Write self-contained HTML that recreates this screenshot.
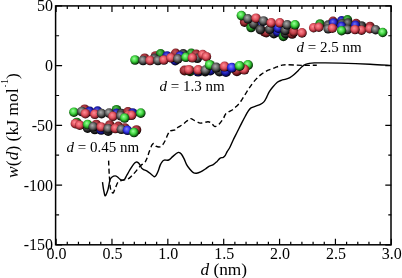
<!DOCTYPE html>
<html><head><meta charset="utf-8"><style>
html,body{margin:0;padding:0;background:#fff;width:402px;height:278px;overflow:hidden}
svg{display:block;will-change:transform}
text{font-family:"Liberation Serif",serif;fill:#000}
</style></head><body>
<svg width="402" height="278" viewBox="0 0 402 278">
<defs>
<radialGradient id="rf" cx="0.45" cy="0.42" r="0.58" fx="0.4" fy="0.35">
<stop offset="0" stop-color="#ff9098"/><stop offset="0.5" stop-color="#e25460"/><stop offset="0.86" stop-color="#7a1a22"/><stop offset="1" stop-color="#000"/></radialGradient>
<radialGradient id="rm" cx="0.45" cy="0.42" r="0.58" fx="0.4" fy="0.35">
<stop offset="0" stop-color="#dc6c74"/><stop offset="0.5" stop-color="#c04048"/><stop offset="0.86" stop-color="#581214"/><stop offset="1" stop-color="#000"/></radialGradient>
<radialGradient id="rb" cx="0.45" cy="0.42" r="0.58" fx="0.4" fy="0.35">
<stop offset="0" stop-color="#c05860"/><stop offset="0.5" stop-color="#a43038"/><stop offset="0.86" stop-color="#460a0c"/><stop offset="1" stop-color="#000"/></radialGradient>
<radialGradient id="gf" cx="0.45" cy="0.42" r="0.58" fx="0.4" fy="0.35">
<stop offset="0" stop-color="#a0ffa0"/><stop offset="0.5" stop-color="#40d640"/><stop offset="0.86" stop-color="#0e5a0e"/><stop offset="1" stop-color="#000"/></radialGradient>
<radialGradient id="gm" cx="0.45" cy="0.42" r="0.58" fx="0.4" fy="0.35">
<stop offset="0" stop-color="#80dc80"/><stop offset="0.5" stop-color="#30b030"/><stop offset="0.86" stop-color="#0a460a"/><stop offset="1" stop-color="#000"/></radialGradient>
<radialGradient id="gb" cx="0.45" cy="0.42" r="0.58" fx="0.4" fy="0.35">
<stop offset="0" stop-color="#68c068"/><stop offset="0.5" stop-color="#229a22"/><stop offset="0.86" stop-color="#083608"/><stop offset="1" stop-color="#000"/></radialGradient>
<radialGradient id="kf" cx="0.45" cy="0.42" r="0.58" fx="0.4" fy="0.35">
<stop offset="0" stop-color="#b0b0b0"/><stop offset="0.5" stop-color="#666666"/><stop offset="0.86" stop-color="#1c1c1c"/><stop offset="1" stop-color="#000"/></radialGradient>
<radialGradient id="km" cx="0.45" cy="0.42" r="0.58" fx="0.4" fy="0.35">
<stop offset="0" stop-color="#909090"/><stop offset="0.5" stop-color="#4c4c4c"/><stop offset="0.86" stop-color="#141414"/><stop offset="1" stop-color="#000"/></radialGradient>
<radialGradient id="kb" cx="0.45" cy="0.42" r="0.58" fx="0.4" fy="0.35">
<stop offset="0" stop-color="#787878"/><stop offset="0.5" stop-color="#404040"/><stop offset="0.86" stop-color="#0e0e0e"/><stop offset="1" stop-color="#000"/></radialGradient>
<radialGradient id="bf" cx="0.45" cy="0.42" r="0.58" fx="0.4" fy="0.35">
<stop offset="0" stop-color="#8888ff"/><stop offset="0.5" stop-color="#3636ee"/><stop offset="0.86" stop-color="#0c0c6a"/><stop offset="1" stop-color="#000"/></radialGradient>
<radialGradient id="bm" cx="0.45" cy="0.42" r="0.58" fx="0.4" fy="0.35">
<stop offset="0" stop-color="#7070f0"/><stop offset="0.5" stop-color="#2a2ad4"/><stop offset="0.86" stop-color="#0a0a58"/><stop offset="1" stop-color="#000"/></radialGradient>
<radialGradient id="bb" cx="0.45" cy="0.42" r="0.58" fx="0.4" fy="0.35">
<stop offset="0" stop-color="#5c5cdc"/><stop offset="0.5" stop-color="#2020bc"/><stop offset="0.86" stop-color="#080848"/><stop offset="1" stop-color="#000"/></radialGradient>




</defs>
<rect width="402" height="278" fill="#fff"/>
<g>
<circle cx="244.6" cy="22.1" r="4.8" fill="url(#rb)"/>
<circle cx="251.1" cy="27.5" r="4.8" fill="url(#gb)"/>
<circle cx="259.7" cy="25.9" r="4.8" fill="url(#bb)"/>
<circle cx="264.6" cy="31.8" r="4.8" fill="url(#rb)"/>
<circle cx="266.3" cy="32.6" r="4.8" fill="url(#rb)"/>
<circle cx="273.9" cy="33.7" r="4.8" fill="url(#kb)"/>
<circle cx="277.6" cy="32.0" r="4.8" fill="url(#bb)"/>
<circle cx="283.4" cy="36.4" r="4.8" fill="url(#gb)"/>
<circle cx="285.7" cy="33.7" r="4.8" fill="url(#kb)"/>
<circle cx="292.2" cy="34.0" r="4.8" fill="url(#rb)"/>
<circle cx="253.8" cy="24.2" r="4.8" fill="url(#km)"/>
<circle cx="260.3" cy="29.6" r="4.8" fill="url(#km)"/>
<circle cx="269.6" cy="29.3" r="4.8" fill="url(#km)"/>
<circle cx="278.2" cy="28.2" r="4.8" fill="url(#bm)"/>
<circle cx="285.2" cy="30.4" r="4.8" fill="url(#km)"/>
<circle cx="293.9" cy="31.8" r="4.8" fill="url(#rm)"/>
<circle cx="241.4" cy="15.6" r="4.8" fill="url(#gf)"/>
<circle cx="247.9" cy="18.8" r="4.8" fill="url(#kf)"/>
<circle cx="256.0" cy="18.2" r="4.8" fill="url(#rf)"/>
<circle cx="263.5" cy="21.0" r="4.8" fill="url(#kf)"/>
<circle cx="271.2" cy="22.8" r="4.8" fill="url(#rf)"/>
<circle cx="279.8" cy="22.8" r="4.8" fill="url(#rf)"/>
<circle cx="287.2" cy="24.8" r="4.8" fill="url(#kf)"/>
<circle cx="295.0" cy="24.8" r="4.8" fill="url(#gf)"/>
<circle cx="302.0" cy="32.9" r="4.8" fill="url(#rf)"/><circle cx="320.0" cy="23.9" r="4.7" fill="url(#gb)"/>
<circle cx="333.0" cy="21.2" r="4.7" fill="url(#rb)"/>
<circle cx="341.6" cy="20.8" r="4.7" fill="url(#bb)"/>
<circle cx="347.5" cy="19.7" r="4.7" fill="url(#gb)"/>
<circle cx="356.1" cy="23.5" r="4.7" fill="url(#rb)"/>
<circle cx="370.0" cy="26.4" r="4.7" fill="url(#rb)"/>
<circle cx="361.6" cy="25.9" r="4.7" fill="url(#kb)"/>
<circle cx="328.1" cy="25.0" r="4.7" fill="url(#km)"/>
<circle cx="333.5" cy="22.9" r="4.7" fill="url(#bm)"/>
<circle cx="342.1" cy="23.6" r="4.7" fill="url(#km)"/>
<circle cx="348.0" cy="23.0" r="4.7" fill="url(#km)"/>
<circle cx="355.6" cy="25.2" r="4.7" fill="url(#bm)"/>
<circle cx="341.6" cy="26.3" r="4.7" fill="url(#bm)"/>
<circle cx="313.6" cy="27.8" r="4.7" fill="url(#rf)"/>
<circle cx="318.9" cy="27.3" r="4.7" fill="url(#rf)"/>
<circle cx="328.1" cy="28.9" r="4.7" fill="url(#kf)"/>
<circle cx="332.4" cy="28.3" r="4.7" fill="url(#rf)"/>
<circle cx="347.5" cy="29.6" r="4.7" fill="url(#kf)"/>
<circle cx="341.6" cy="30.7" r="4.7" fill="url(#gf)"/>
<circle cx="361.5" cy="30.2" r="4.7" fill="url(#rf)"/>
<circle cx="355.0" cy="29.6" r="4.7" fill="url(#rf)"/>
<circle cx="369.7" cy="28.7" r="4.7" fill="url(#rf)"/>
<circle cx="375.6" cy="29.8" r="4.7" fill="url(#kf)"/>
<circle cx="382.7" cy="32.5" r="4.7" fill="url(#gf)"/>
</g>
<g>
<circle cx="144.7" cy="58.2" r="4.8" fill="url(#rb)"/>
<circle cx="155.5" cy="56.0" r="4.8" fill="url(#rb)"/>
<circle cx="160.6" cy="53.8" r="4.8" fill="url(#gb)"/>
<circle cx="167.1" cy="56.0" r="4.8" fill="url(#bb)"/>
<circle cx="175.7" cy="53.3" r="4.8" fill="url(#rb)"/>
<circle cx="183.2" cy="53.9" r="4.8" fill="url(#kb)"/>
<circle cx="191.3" cy="53.3" r="4.8" fill="url(#gb)"/>
<circle cx="196.2" cy="54.4" r="4.8" fill="url(#rb)"/>
<circle cx="175.2" cy="60.7" r="4.8" fill="url(#bb)"/>
<circle cx="154.4" cy="58.3" r="4.8" fill="url(#km)"/>
<circle cx="180.3" cy="56.0" r="4.8" fill="url(#bm)"/>
<circle cx="197.3" cy="58.3" r="4.8" fill="url(#km)"/>
<circle cx="135.0" cy="60.0" r="4.8" fill="url(#gf)"/>
<circle cx="143.1" cy="60.5" r="4.8" fill="url(#kf)"/>
<circle cx="150.1" cy="60.5" r="4.8" fill="url(#rf)"/>
<circle cx="157.9" cy="60.5" r="4.8" fill="url(#kf)"/>
<circle cx="163.9" cy="60.0" r="4.8" fill="url(#rf)"/>
<circle cx="170.9" cy="57.8" r="4.8" fill="url(#rf)"/>
<circle cx="177.9" cy="58.9" r="4.8" fill="url(#kf)"/>
<circle cx="185.9" cy="57.3" r="4.8" fill="url(#gf)"/>
<circle cx="192.4" cy="57.8" r="4.8" fill="url(#rf)"/>
<circle cx="202.7" cy="54.6" r="4.8" fill="url(#rf)"/>
<circle cx="206.4" cy="56.7" r="4.8" fill="url(#rf)"/><circle cx="184.6" cy="70.5" r="5.0" fill="url(#rb)"/>
<circle cx="190.1" cy="71.3" r="5.0" fill="url(#gb)"/>
<circle cx="198.2" cy="71.6" r="5.0" fill="url(#bb)"/>
<circle cx="205.2" cy="71.5" r="5.0" fill="url(#kb)"/>
<circle cx="207.1" cy="70.0" r="5.0" fill="url(#kb)"/>
<circle cx="210.3" cy="70.5" r="5.0" fill="url(#bb)"/>
<circle cx="219.5" cy="71.5" r="5.0" fill="url(#kb)"/>
<circle cx="226.0" cy="72.0" r="5.0" fill="url(#bb)"/>
<circle cx="236.9" cy="71.3" r="5.0" fill="url(#rb)"/>
<circle cx="188.9" cy="69.9" r="5.0" fill="url(#rf)"/>
<circle cx="198.3" cy="70.0" r="5.0" fill="url(#rf)"/>
<circle cx="205.6" cy="70.2" r="5.0" fill="url(#kf)"/>
<circle cx="209.8" cy="64.9" r="5.0" fill="url(#gf)"/>
<circle cx="216.2" cy="67.6" r="5.0" fill="url(#kf)"/>
<circle cx="224.6" cy="66.6" r="5.0" fill="url(#rf)"/>
<circle cx="231.9" cy="67.8" r="5.0" fill="url(#bf)"/>
<circle cx="248.0" cy="65.0" r="5.0" fill="url(#gf)"/>
<circle cx="244.3" cy="69.6" r="5.0" fill="url(#rf)"/>
<circle cx="239.6" cy="66.0" r="5.0" fill="url(#gf)"/>
</g>
<g>
<circle cx="84.7" cy="109.2" r="4.8" fill="url(#rb)"/>
<circle cx="89.7" cy="111.4" r="4.8" fill="url(#bb)"/>
<circle cx="97.6" cy="111.1" r="4.8" fill="url(#bb)"/>
<circle cx="116.5" cy="109.7" r="4.8" fill="url(#gb)"/>
<circle cx="116.5" cy="113.3" r="4.8" fill="url(#bb)"/>
<circle cx="121.4" cy="113.5" r="4.8" fill="url(#kb)"/>
<circle cx="127.9" cy="111.9" r="4.8" fill="url(#rb)"/>
<circle cx="132.7" cy="113.0" r="4.8" fill="url(#bb)"/>
<circle cx="73.9" cy="112.2" r="4.8" fill="url(#gf)"/>
<circle cx="81.8" cy="111.5" r="4.8" fill="url(#kf)"/>
<circle cx="85.4" cy="113.7" r="4.8" fill="url(#rf)"/>
<circle cx="94.8" cy="114.3" r="4.8" fill="url(#rf)"/>
<circle cx="101.6" cy="113.6" r="4.8" fill="url(#kf)"/>
<circle cx="109.1" cy="113.1" r="4.8" fill="url(#kf)"/>
<circle cx="112.9" cy="116.3" r="4.8" fill="url(#rf)"/>
<circle cx="120.9" cy="115.8" r="4.8" fill="url(#kf)"/>
<circle cx="128.4" cy="115.3" r="4.8" fill="url(#rf)"/>
<circle cx="131.6" cy="115.3" r="4.8" fill="url(#rf)"/>
<circle cx="124.6" cy="118.0" r="4.8" fill="url(#gf)"/>
<circle cx="140.8" cy="113.1" r="4.8" fill="url(#gf)"/><circle cx="76.8" cy="122.5" r="4.8" fill="url(#gb)"/>
<circle cx="96.3" cy="124.5" r="4.8" fill="url(#rb)"/>
<circle cx="109.8" cy="125.0" r="4.8" fill="url(#rb)"/>
<circle cx="118.4" cy="126.4" r="4.8" fill="url(#rb)"/>
<circle cx="124.8" cy="128.0" r="4.8" fill="url(#rb)"/>
<circle cx="136.5" cy="130.0" r="4.8" fill="url(#rb)"/>
<circle cx="87.6" cy="128.2" r="4.8" fill="url(#kb)"/>
<circle cx="94.8" cy="129.5" r="4.8" fill="url(#kb)"/>
<circle cx="101.2" cy="130.0" r="4.8" fill="url(#bb)"/>
<circle cx="108.2" cy="131.2" r="4.8" fill="url(#kb)"/>
<circle cx="75.4" cy="123.7" r="4.8" fill="url(#rf)"/>
<circle cx="79.7" cy="125.2" r="4.8" fill="url(#rf)"/>
<circle cx="87.6" cy="124.5" r="4.8" fill="url(#gf)"/>
<circle cx="93.2" cy="126.8" r="4.8" fill="url(#kf)"/>
<circle cx="101.2" cy="127.0" r="4.8" fill="url(#rf)"/>
<circle cx="108.2" cy="128.7" r="4.8" fill="url(#kf)"/>
<circle cx="115.4" cy="128.5" r="4.8" fill="url(#rf)"/>
<circle cx="121.4" cy="129.3" r="4.8" fill="url(#kf)"/>
<circle cx="127.5" cy="130.3" r="4.8" fill="url(#bf)"/>
<circle cx="134.0" cy="132.5" r="4.8" fill="url(#gf)"/>
</g>
<path d="M102.50,182.10 C102.67,183.27 103.08,186.83 103.50,189.10 C103.92,191.37 104.50,194.93 105.00,195.70 C105.50,196.47 105.98,194.80 106.50,193.70 C107.02,192.60 107.67,190.70 108.10,189.10 C108.53,187.50 108.77,185.68 109.10,184.10 C109.43,182.52 109.60,180.78 110.10,179.60 C110.60,178.42 111.27,177.62 112.10,177.00 C112.93,176.38 114.18,175.90 115.10,175.90 C116.02,175.90 116.77,176.42 117.60,177.00 C118.43,177.58 119.25,178.88 120.10,179.40 C120.95,179.92 121.93,180.15 122.70,180.10 C123.47,180.05 124.03,179.87 124.70,179.10 C125.37,178.33 125.95,176.85 126.70,175.50 C127.45,174.15 128.48,172.23 129.20,171.00 C129.92,169.77 130.18,169.33 131.00,168.10 C131.82,166.87 133.25,164.60 134.10,163.60 C134.95,162.60 135.43,162.27 136.10,162.10 C136.77,161.93 137.43,162.10 138.10,162.60 C138.77,163.10 139.52,164.18 140.10,165.10 C140.68,166.02 141.02,167.35 141.60,168.10 C142.18,168.85 142.68,169.10 143.60,169.60 C144.52,170.10 145.83,170.33 147.10,171.10 C148.37,171.87 150.02,173.27 151.20,174.20 C152.38,175.13 153.37,176.53 154.20,176.70 C155.03,176.87 155.53,176.13 156.20,175.20 C156.87,174.27 157.53,172.78 158.20,171.10 C158.87,169.42 159.52,166.68 160.20,165.10 C160.88,163.52 161.62,162.43 162.30,161.60 C162.98,160.77 163.23,160.37 164.30,160.10 C165.37,159.83 167.32,160.58 168.70,160.00 C170.08,159.42 171.28,157.72 172.60,156.60 C173.92,155.48 175.60,154.00 176.60,153.30 C177.60,152.60 177.82,152.28 178.60,152.40 C179.38,152.52 180.40,152.97 181.30,154.00 C182.20,155.03 183.12,156.83 184.00,158.60 C184.88,160.37 185.62,162.82 186.60,164.60 C187.58,166.38 188.78,167.97 189.90,169.30 C191.02,170.63 192.18,171.95 193.30,172.60 C194.42,173.25 195.38,173.32 196.60,173.20 C197.82,173.08 199.05,172.67 200.60,171.90 C202.15,171.13 204.57,169.48 205.90,168.60 C207.23,167.72 207.37,167.27 208.60,166.60 C209.83,165.93 211.97,165.38 213.30,164.60 C214.63,163.82 215.50,162.95 216.60,161.90 C217.70,160.85 218.78,159.07 219.90,158.30 C221.02,157.53 222.40,157.80 223.30,157.30 C224.20,156.80 224.63,156.30 225.30,155.30 C225.97,154.30 226.53,152.63 227.30,151.30 C228.07,149.97 228.92,149.18 229.90,147.30 C230.88,145.42 231.98,142.55 233.20,140.00 C234.42,137.45 235.75,134.90 237.20,132.00 C238.65,129.10 240.53,125.27 241.90,122.60 C243.27,119.93 244.35,117.90 245.40,116.00 C246.45,114.10 247.32,112.52 248.20,111.20 C249.08,109.88 249.67,108.87 250.70,108.10 C251.73,107.33 252.87,107.18 254.40,106.60 C255.93,106.02 258.32,105.38 259.90,104.60 C261.48,103.82 262.78,103.12 263.90,101.90 C265.02,100.68 265.72,98.97 266.60,97.30 C267.48,95.63 268.20,93.57 269.20,91.90 C270.20,90.23 271.25,88.90 272.60,87.30 C273.95,85.70 275.85,83.47 277.30,82.30 C278.75,81.13 279.87,80.82 281.30,80.30 C282.73,79.78 284.47,79.65 285.90,79.20 C287.33,78.75 288.63,78.30 289.90,77.60 C291.17,76.90 292.13,76.15 293.50,75.00 C294.87,73.85 296.70,72.08 298.10,70.70 C299.50,69.32 300.65,67.75 301.90,66.70 C303.15,65.65 304.37,64.95 305.60,64.40 C306.83,63.85 307.85,63.65 309.30,63.40 C310.75,63.15 312.22,62.98 314.30,62.90 C316.38,62.82 317.52,62.87 321.80,62.90 C326.08,62.93 331.98,62.88 340.00,63.10 C348.02,63.32 361.40,63.82 369.90,64.20 C378.40,64.58 387.48,65.20 391.00,65.40" fill="none" stroke="#000" stroke-width="1.4" stroke-linejoin="round"/>
<path d="M108.60,160.60 C108.68,162.50 108.93,168.93 109.10,172.00 C109.27,175.07 109.43,176.67 109.60,179.00 C109.77,181.33 109.87,184.08 110.10,186.00 C110.33,187.92 110.52,189.33 111.00,190.50 C111.48,191.67 112.33,193.25 113.00,193.00 C113.67,192.75 114.17,190.82 115.00,189.00 C115.83,187.18 116.83,183.55 118.00,182.10 C119.17,180.65 120.67,180.73 122.00,180.30 C123.33,179.87 124.83,179.83 126.00,179.50 C127.17,179.17 127.98,178.97 129.00,178.30 C130.02,177.63 130.92,176.70 132.10,175.50 C133.28,174.30 134.77,172.67 136.10,171.10 C137.43,169.53 139.02,167.27 140.10,166.10 C141.18,164.93 141.77,164.77 142.60,164.10 C143.43,163.43 144.35,163.10 145.10,162.10 C145.85,161.10 146.40,159.85 147.10,158.10 C147.80,156.35 148.48,153.80 149.30,151.60 C150.12,149.40 151.22,146.23 152.00,144.90 C152.78,143.57 153.33,143.38 154.00,143.60 C154.67,143.82 155.00,145.65 156.00,146.20 C157.00,146.75 158.90,147.12 160.00,146.90 C161.10,146.68 161.72,146.00 162.60,144.90 C163.48,143.80 164.42,142.07 165.30,140.30 C166.18,138.53 167.13,135.85 167.90,134.30 C168.67,132.75 169.02,131.67 169.90,131.00 C170.78,130.33 172.20,130.53 173.20,130.30 C174.20,130.07 175.10,130.10 175.90,129.60 C176.70,129.10 176.88,128.13 178.00,127.30 C179.12,126.47 181.17,125.60 182.60,124.60 C184.03,123.60 185.27,122.30 186.60,121.30 C187.93,120.30 189.27,118.72 190.60,118.60 C191.93,118.48 193.15,119.88 194.60,120.60 C196.05,121.32 197.97,122.52 199.30,122.90 C200.63,123.28 201.17,123.10 202.60,122.90 C204.03,122.70 206.57,121.75 207.90,121.70 C209.23,121.65 209.80,122.12 210.60,122.60 C211.40,123.08 211.92,123.93 212.70,124.60 C213.48,125.27 214.20,126.72 215.30,126.60 C216.40,126.48 217.97,125.23 219.30,123.90 C220.63,122.57 222.27,120.22 223.30,118.60 C224.33,116.98 224.55,115.35 225.50,114.20 C226.45,113.05 227.82,112.45 229.00,111.70 C230.18,110.95 231.42,110.55 232.60,109.70 C233.78,108.85 235.02,107.62 236.10,106.60 C237.18,105.58 238.18,104.68 239.10,103.60 C240.02,102.52 240.77,101.35 241.60,100.10 C242.43,98.85 243.25,97.45 244.10,96.10 C244.95,94.75 245.98,93.15 246.70,92.00 C247.42,90.85 247.75,90.17 248.40,89.20 C249.05,88.23 249.82,87.30 250.60,86.20 C251.38,85.10 252.18,83.78 253.10,82.60 C254.02,81.42 255.18,80.10 256.10,79.10 C257.02,78.10 257.68,77.43 258.60,76.60 C259.52,75.77 260.58,74.85 261.60,74.10 C262.62,73.35 263.60,72.77 264.70,72.10 C265.80,71.43 266.98,70.65 268.20,70.10 C269.42,69.55 270.53,69.33 272.00,68.80 C273.47,68.27 275.33,67.52 277.00,66.90 C278.67,66.28 280.35,65.47 282.00,65.10 C283.65,64.73 284.42,64.70 286.90,64.70 C289.38,64.70 294.00,64.98 296.90,65.10 C299.80,65.22 301.82,65.37 304.30,65.40 C306.78,65.43 309.72,65.32 311.80,65.30 C313.88,65.28 315.97,65.30 316.80,65.30" fill="none" stroke="#000" stroke-width="1.4" stroke-dasharray="5 3"/>
<rect x="55.60" y="5.90" width="335.40" height="238.90" fill="none" stroke="#000" stroke-width="1.5"/>
<path d="M56.10,244.80v-6.0 M56.10,5.90v6.0 M67.27,244.80v-3.0 M67.27,5.90v3.0 M78.45,244.80v-3.0 M78.45,5.90v3.0 M89.62,244.80v-3.0 M89.62,5.90v3.0 M100.79,244.80v-3.0 M100.79,5.90v3.0 M111.97,244.80v-6.0 M111.97,5.90v6.0 M123.14,244.80v-3.0 M123.14,5.90v3.0 M134.31,244.80v-3.0 M134.31,5.90v3.0 M145.49,244.80v-3.0 M145.49,5.90v3.0 M156.66,244.80v-3.0 M156.66,5.90v3.0 M167.83,244.80v-6.0 M167.83,5.90v6.0 M179.01,244.80v-3.0 M179.01,5.90v3.0 M190.18,244.80v-3.0 M190.18,5.90v3.0 M201.35,244.80v-3.0 M201.35,5.90v3.0 M212.53,244.80v-3.0 M212.53,5.90v3.0 M223.70,244.80v-6.0 M223.70,5.90v6.0 M234.87,244.80v-3.0 M234.87,5.90v3.0 M246.05,244.80v-3.0 M246.05,5.90v3.0 M257.22,244.80v-3.0 M257.22,5.90v3.0 M268.39,244.80v-3.0 M268.39,5.90v3.0 M279.57,244.80v-6.0 M279.57,5.90v6.0 M290.74,244.80v-3.0 M290.74,5.90v3.0 M301.91,244.80v-3.0 M301.91,5.90v3.0 M313.09,244.80v-3.0 M313.09,5.90v3.0 M324.26,244.80v-3.0 M324.26,5.90v3.0 M335.43,244.80v-6.0 M335.43,5.90v6.0 M346.61,244.80v-3.0 M346.61,5.90v3.0 M357.78,244.80v-3.0 M357.78,5.90v3.0 M368.95,244.80v-3.0 M368.95,5.90v3.0 M380.13,244.80v-3.0 M380.13,5.90v3.0 M391.30,244.80v-6.0 M391.30,5.90v6.0 M56.10,5.90h6.0 M391.30,5.90h-6.0 M56.10,35.76h3.0 M391.30,35.76h-3.0 M56.10,65.62h6.0 M391.30,65.62h-6.0 M56.10,95.49h3.0 M391.30,95.49h-3.0 M56.10,125.35h6.0 M391.30,125.35h-6.0 M56.10,155.21h3.0 M391.30,155.21h-3.0 M56.10,185.08h6.0 M391.30,185.08h-6.0 M56.10,214.94h3.0 M391.30,214.94h-3.0 M56.10,244.80h6.0 M391.30,244.80h-6.0" stroke="#000" stroke-width="1.2" fill="none"/>
<g font-size="16">
<text x="53.0" y="11.40" text-anchor="end">50</text>
<text x="53.0" y="71.12" text-anchor="end">0</text>
<text x="53.0" y="130.85" text-anchor="end">-50</text>
<text x="53.0" y="190.58" text-anchor="end">-100</text>
<text x="53.0" y="250.30" text-anchor="end">-150</text>

<text x="56.60" y="259.45" text-anchor="middle">0.0</text>
<text x="112.47" y="259.45" text-anchor="middle">0.5</text>
<text x="168.33" y="259.45" text-anchor="middle">1.0</text>
<text x="224.20" y="259.45" text-anchor="middle">1.5</text>
<text x="280.07" y="259.45" text-anchor="middle">2.0</text>
<text x="335.93" y="259.45" text-anchor="middle">2.5</text>
<text x="391.80" y="259.45" text-anchor="middle">3.0</text>

</g>
<g font-size="15">
<text x="296.6" y="52.1"><tspan font-style="italic">d</tspan> = 2.5 nm</text>
<text x="159.6" y="90.8"><tspan font-style="italic">d</tspan> = 1.3 nm</text>
<text x="66.6" y="152.0"><tspan font-style="italic">d</tspan> = 0.45 nm</text>
</g>
<text x="223.8" y="274.6" font-size="17.3" text-anchor="middle"><tspan font-style="italic">d</tspan> (nm)</text>
<text transform="translate(18.4,125.5) rotate(-90)" font-size="17.5" text-anchor="middle"><tspan font-style="italic">w</tspan>(<tspan font-style="italic">d</tspan>) (kJ mol<tspan font-size="8" dy="-10.2" dx="1.2">-</tspan><tspan font-size="10" dx="0.6">1</tspan><tspan dy="10.2">)</tspan></text>
</svg>
</body></html>
